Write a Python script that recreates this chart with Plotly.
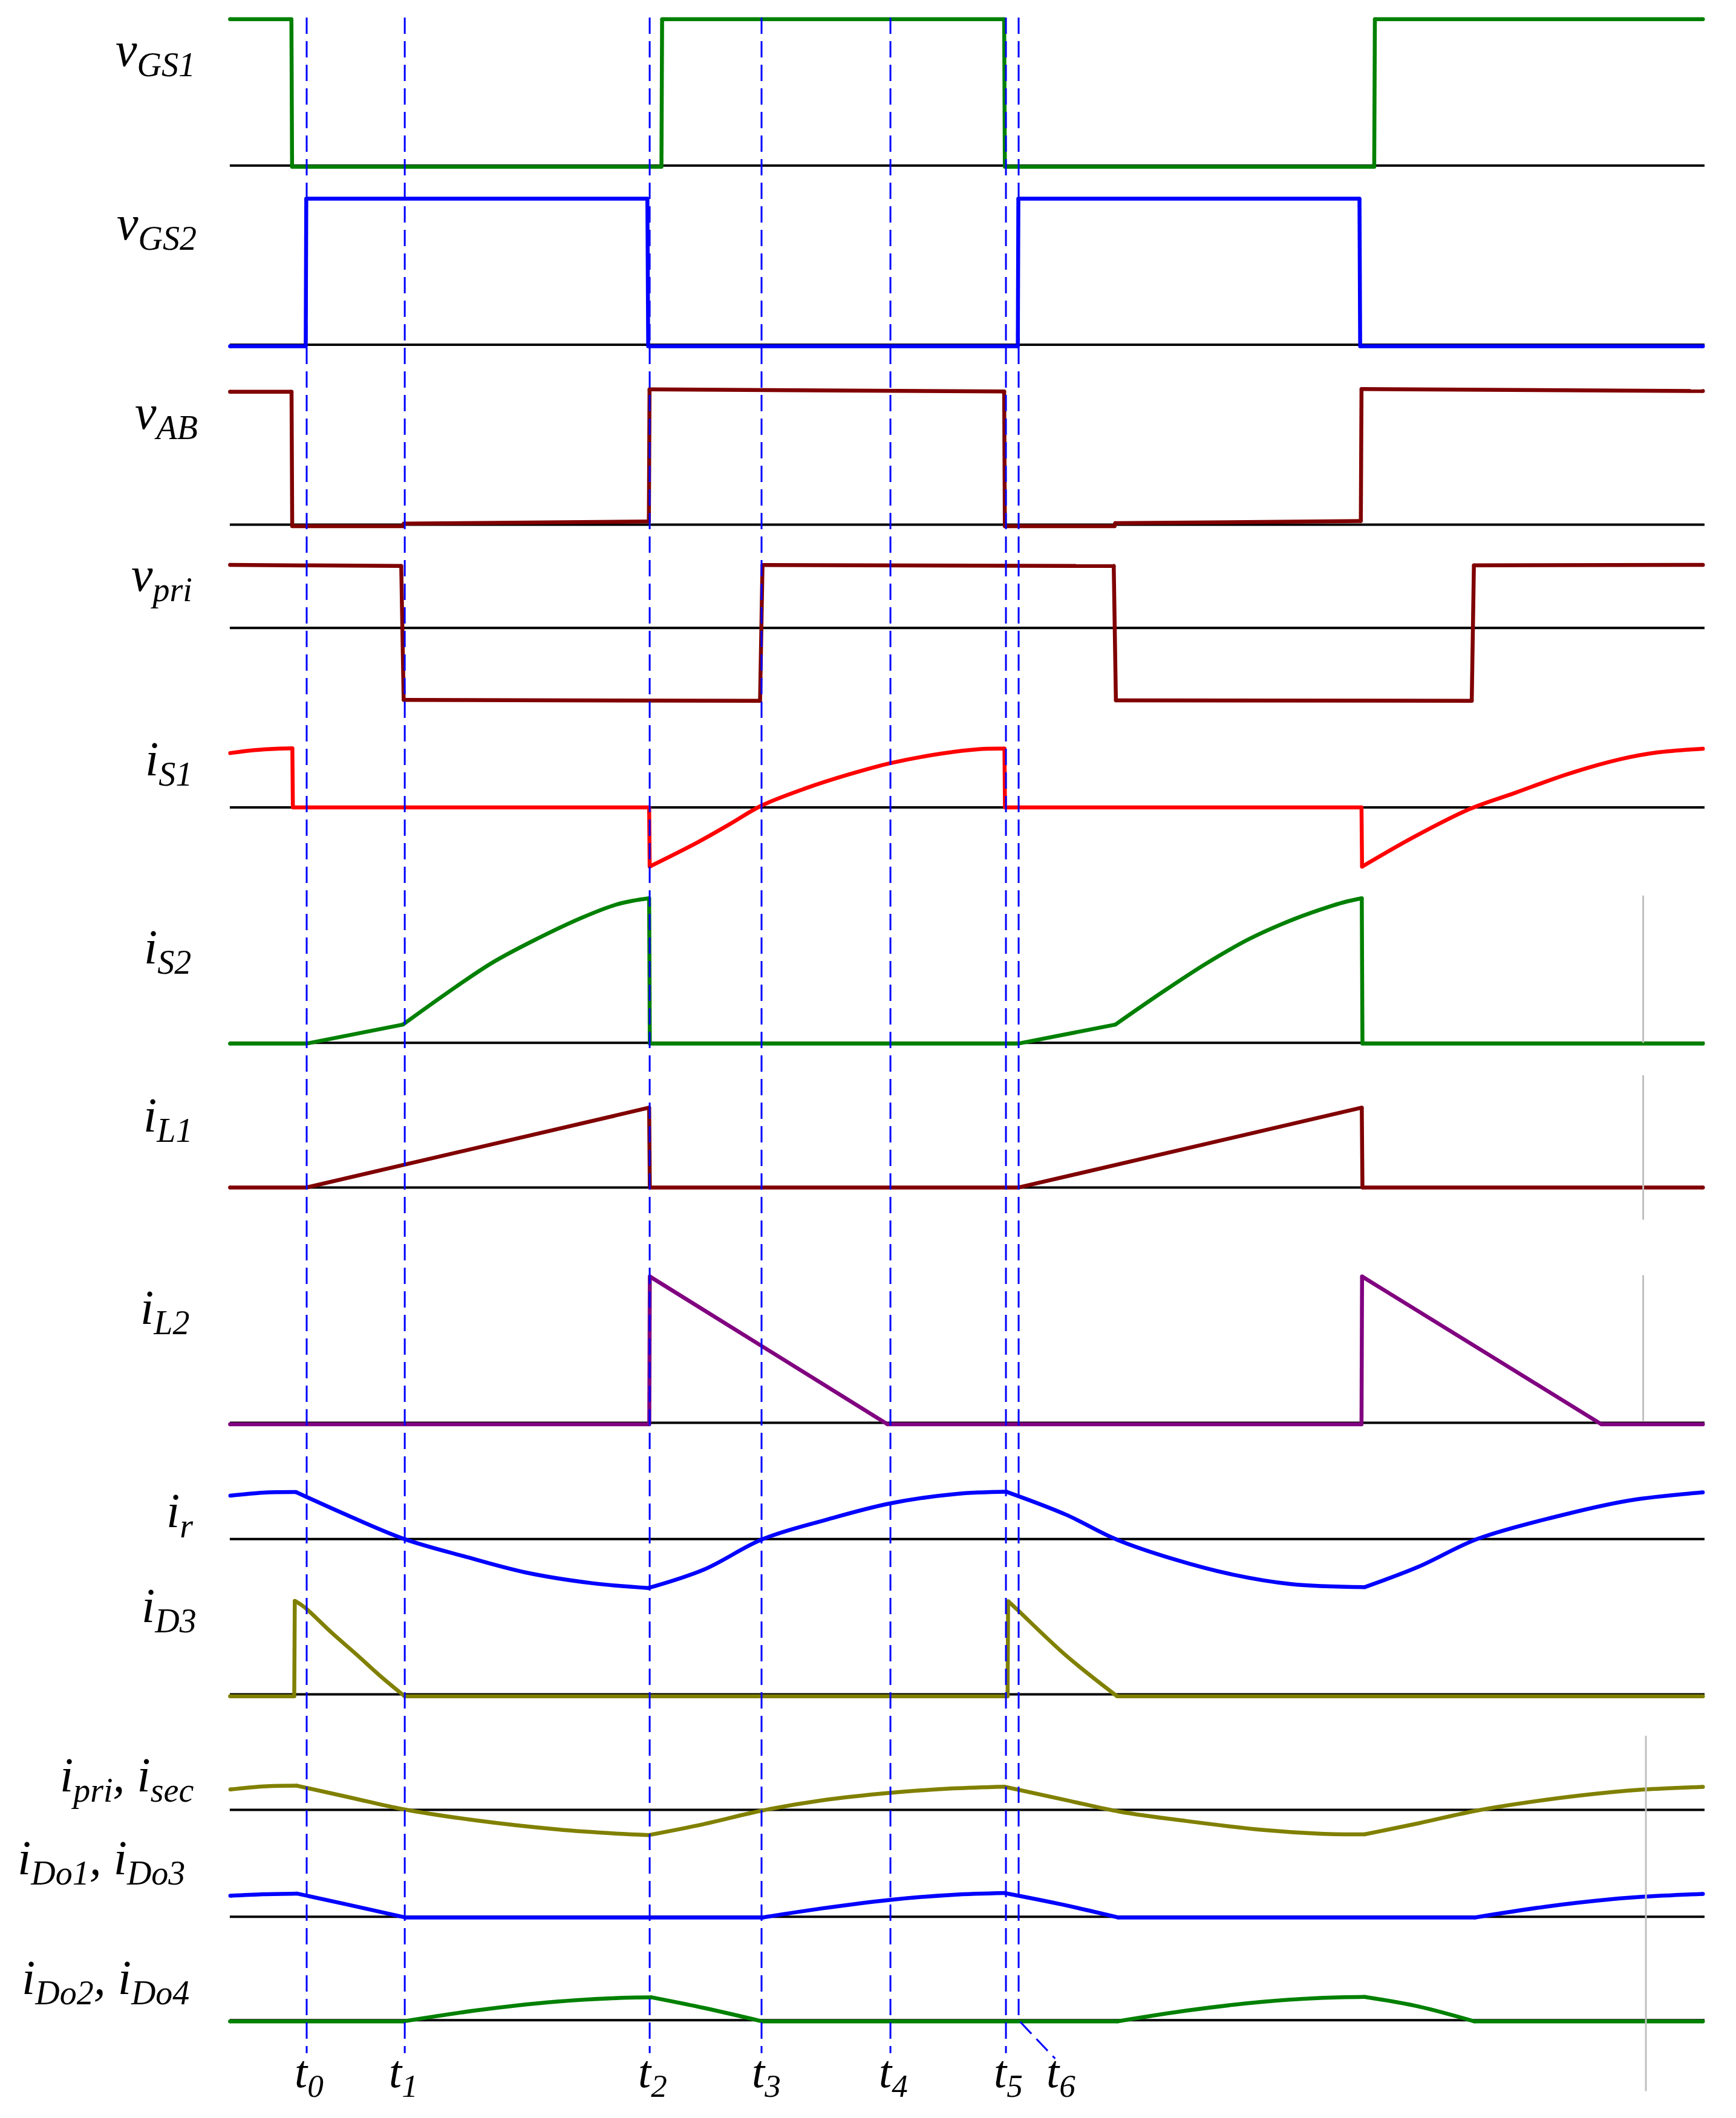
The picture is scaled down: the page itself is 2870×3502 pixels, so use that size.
import math
import plotly.graph_objects as go

# ------------------------------------------------------------------
# DATA  (time axis in reference units; each waveform normalised to its own peak)
# ------------------------------------------------------------------
t_marks = [227.0, 299.6, 480.9, 563.7, 659.1, 744.6, 754.0]
t_names = ["t<sub>0</sub>", "t<sub>1</sub>", "t<sub>2</sub>", "t<sub>3</sub>",
           "t<sub>4</sub>", "t<sub>5</sub>", "t<sub>6</sub>"]

vgs1_t = [170.3, 215.7, 216.2, 489.6, 490.1, 743.3, 743.8, 1017.2, 1017.7, 1260.5]
vgs1_v = [1.0, 1.0, -0.008, -0.008, 1.0, 1.0, -0.008, -0.008, 1.0, 1.0]

vgs2_t = [170.3, 226.3, 226.7, 479.2, 479.8, 753.4, 753.8, 1006.3, 1006.8, 1260.5]
vgs2_v = [-0.01, -0.01, 1.0, 1.0, -0.01, -0.01, 1.0, 1.0, -0.01, -0.01]

vab_t = [170.3, 215.8, 216.3, 298.4, 298.9, 480.3, 480.8, 743.3, 743.8, 825.0, 825.5,
         1007.3, 1007.8, 1260.5]
vab_v = [1.0, 1.0, -0.012, -0.011, 0.008, 0.024, 1.018, 1.002, -0.012, -0.011, 0.011,
         0.027, 1.020, 1.005]

vpri_t = [170.3, 297.0, 298.8, 562.6, 564.4, 824.4, 826.0, 1089.4, 1091.0, 1260.5]
vpri_v = [1.004, 0.987, -1.146, -1.159, 1.002, 0.987, -1.151, -1.159, 0.998, 1.004]

is1_t = [170.4, 188.6, 205.0, 216.4, 216.8, 480.5, 480.9, 516.5, 540.4, 563.7, 596.4,
         628.4, 659.0, 696.0, 724.5, 743.5, 743.9, 1007.8, 1008.2, 1047.0, 1088.0,
         1121.6, 1160.5, 1199.7, 1227.0, 1260.5]
is1_v = [0.920, 0.970, 0.993, 1.0, 0.0, 0.0, -1.002, -0.590, -0.281, 0.030, 0.323,
         0.558, 0.748, 0.908, 0.986, 0.995, 0.0, 0.0, -1.005, -0.497, -0.027,
         0.247, 0.565, 0.817, 0.931, 0.993]

is2_t = [170.3, 227.0, 298.2, 331.4, 364.5, 397.6, 430.8, 455.6, 468.0, 480.5, 481.0,
         754.0, 825.6, 860.0, 892.6, 925.0, 957.4, 986.0, 997.0, 1008.0, 1008.5, 1260.5]
is2_v = [-0.005, -0.005, 0.126, 0.348, 0.555, 0.720, 0.866, 0.955, 0.982, 1.0, -0.005,
         -0.005, 0.126, 0.348, 0.547, 0.720, 0.854, 0.948, 0.978, 1.0, -0.005, -0.005]

il1_t = [170.3, 227.0, 480.5, 481.0, 754.0, 1008.0, 1008.5, 1260.5]
il1_v = [0.0, 0.0, 1.0, 0.0, 0.0, 1.0, 0.0, 0.0]

il2_t = [170.3, 480.6, 481.0, 657.0, 1007.8, 1008.2, 1185.4, 1260.5]
il2_v = [-0.01, -0.01, 1.0, -0.01, -0.01, 1.0, -0.01, -0.01]

ir_t = [170.5, 195.0, 219.0, 260.0, 299.5, 343.0, 388.6, 438.0, 480.0, 521.0, 564.6,
        612.0, 659.0, 707.5, 745.0, 789.0, 827.0, 868.7, 912.2, 955.8, 1010.0, 1050.0,
        1093.6, 1151.6, 1206.0, 1260.4]
ir_v = [0.925, 0.989, 1.0, 0.471, 0.0, -0.362, -0.707, -0.937, -1.040, -0.649, 0.0,
        0.414, 0.759, 0.960, 1.006, 0.520, -0.014, -0.425, -0.753, -0.957, -1.023, -0.589,
        0.003, 0.477, 0.822, 0.994]

id3_t = [170.3, 217.8, 218.2, 225.0, 245.8, 264.4, 281.0, 299.6, 745.8, 746.2, 752.7,
         789.0, 827.0, 1260.5]
id3_v = [-0.022, -0.022, 1.0, 0.936, 0.655, 0.419, 0.202, -0.022, -0.022, 0.996, 0.910,
         0.416, -0.022, -0.022]

ipri_t = [170.5, 195.0, 219.8, 260.5, 298.5, 352.7, 412.4, 455.9, 480.3, 521.0, 564.4,
          607.8, 659.4, 705.5, 743.5, 789.0, 828.8, 879.6, 934.0, 977.5, 1010.0, 1050.0,
          1093.6, 1143.8, 1192.6, 1217.0, 1260.5]
ipri_v = [0.85, 0.978, 1.006, 0.5, 0.028, -0.438, -0.809, -0.983, -1.045, -0.590, -0.022,
          0.393, 0.713, 0.893, 0.966, 0.410, -0.073, -0.472, -0.826, -0.989, -1.017, -0.556,
          -0.022, 0.42, 0.74, 0.85, 0.96]

ido1_t = [170.5, 195.0, 219.8, 257.8, 300.0, 564.4, 607.8, 659.4, 705.5, 743.5, 787.0,
          827.6, 1091.7, 1143.8, 1192.6, 1217.0, 1260.5]
ido1_v = [0.90, 0.965, 0.994, 0.514, -0.03, -0.03, 0.353, 0.728, 0.942, 1.017, 0.514,
          -0.03, -0.03, 0.43, 0.75, 0.86, 0.98]

ido2_t = [170.3, 298.5, 352.7, 412.4, 461.3, 482.0, 521.0, 564.4, 827.0, 879.6, 934.0,
          977.5, 1010.0, 1050.0, 1091.5, 1260.5]
ido2_v = [-0.05, -0.05, 0.424, 0.802, 0.965, 0.988, 0.529, -0.05, -0.05, 0.424, 0.791,
          0.959, 1.006, 0.593, -0.05, -0.05]

labels = ["<i>v<sub>GS1</sub></i>", "<i>v<sub>GS2</sub></i>", "<i>v<sub>AB</sub></i>",
          "<i>v<sub>pri</sub></i>", "<i>i<sub>S1</sub></i>", "<i>i<sub>S2</sub></i>",
          "<i>i<sub>L1</sub></i>", "<i>i<sub>L2</sub></i>", "<i>i<sub>r</sub></i>",
          "<i>i<sub>D3</sub></i>", "<i>i<sub>pri</sub>, i<sub>sec</sub></i>",
          "<i>i<sub>Do1</sub>, i<sub>Do3</sub></i>", "<i>i<sub>Do2</sub>, i<sub>Do4</sub></i>"]

# ------------------------------------------------------------------
# LAYOUT / STYLE  (reference-pixel geometry, 1285 x 1568 units)
# ------------------------------------------------------------------
W, H = 2870, 3502
S = W / 1285.0
HS = H / S

GREEN, BLUE, MAROON, RED, PURPLE, OLIVE = "#008000", "#0000FF", "#800000", "#FF0000", "#800080", "#808000"

# (t, v, colour, zero level, pixels per unit, label right edge, label centre)
rows = [
    (vgs1_t, vgs1_v, GREEN, 122.6, 108.4, 145.6, 39.3),
    (vgs2_t, vgs2_v, BLUE, 255.2, 108.1, 146.6, 167.9),
    (vab_t, vab_v, MAROON, 388.4, 98.4, 147.3, 307.9),
    (vpri_t, vpri_v, MAROON, 464.9, 46.5, 143.3, 427.9),
    (is1_t, is1_v, RED, 597.7, 43.7, 143.3, 564.7),
    (is2_t, is2_v, GREEN, 772.0, 107.0, 142.5, 703.8),
    (il1_t, il1_v, MAROON, 879.1, 59.1, 143.3, 828.5),
    (il2_t, il2_v, PURPLE, 1053.3, 108.3, 141.0, 970.6),
    (ir_t, ir_v, BLUE, 1139.4, 34.8, 143.6, 1121.0),
    (id3_t, id3_v, OLIVE, 1254.3, 69.2, 146.3, 1191.5),
    (ipri_t, ipri_v, OLIVE, 1339.9, 17.8, 144.0, 1316.8),
    (ido1_t, ido1_v, BLUE, 1419.0, 17.3, 138.0, 1378.3),
    (ido2_t, ido2_v, GREEN, 1495.6, 17.2, 141.0, 1466.7),
]

BASE_X0, BASE_X1 = 170.1, 1261.7
DASH_TOP, DASH_BOT = 13.0, 1520.0
T6_END = (781.0, 1524.0)
TLAB_X = [229.0, 298.5, 483.0, 567.5, 661.5, 746.5, 785.5]
TLAB_Y = 1536.0
GRAY_MARKS = [(1216.3, 663.0, 772.0), (1216.3, 796.0, 903.0), (1216.3, 944.0, 1052.0),
              (1218.3, 1285.0, 1548.0)]
LINE_W = 6.5
CORNER_DEG = 11.0


def pf(y):  # reference pixel row -> paper fraction
    return 1.0 - y / HS


def corner_indices(t, v, unit):
    """Indices where the drawn waveform has a corner (so curves are smoothed only between them)."""
    pts = [(ti, -vi * unit) for ti, vi in zip(t, v)]
    idx = [0]
    for i in range(1, len(pts) - 1):
        a1 = math.degrees(math.atan2(pts[i][1] - pts[i - 1][1], pts[i][0] - pts[i - 1][0]))
        a2 = math.degrees(math.atan2(pts[i + 1][1] - pts[i][1], pts[i + 1][0] - pts[i][0]))
        flat_or_edge = min(abs(a1), abs(a2)) < 0.8 or max(abs(a1), abs(a2)) > 75
        if abs(a2 - a1) > CORNER_DEG or (flat_or_edge and abs(a2 - a1) > 3):
            idx.append(i)
    idx.append(len(pts) - 1)
    return idx


FONT = "Liberation Serif"
fig = go.Figure()
layout = dict(width=W, height=H, margin=dict(l=0, r=0, t=0, b=0),
              paper_bgcolor="white", plot_bgcolor="white", showlegend=False,
              xaxis=dict(range=[0, 1285], domain=[0, 1], visible=False, fixedrange=True))
shapes, annotations = [], []

for k, (t, v, col, zero, unit, lx, ly) in enumerate(rows):
    ax = "yaxis" if k == 0 else f"yaxis{k+1}"
    ref = "y" if k == 0 else f"y{k+1}"
    yd = dict(range=[(zero - HS) / unit, zero / unit], domain=[0, 1], visible=False,
              fixedrange=True)
    if k > 0:
        yd["overlaying"] = "y"
    layout[ax] = yd

    cidx = corner_indices(t, v, unit)
    for a, b in zip(cidx[:-1], cidx[1:]):
        fig.add_trace(go.Scatter(x=t[a:b + 1], y=v[a:b + 1], mode="lines", yaxis=ref,
                                 hoverinfo="skip",
                                 line=dict(color=col, width=LINE_W,
                                           shape="spline" if b - a >= 2 else "linear",
                                           smoothing=1.0)))
    fig.add_trace(go.Scatter(x=[t[i] for i in cidx], y=[v[i] for i in cidx], mode="markers",
                             yaxis=ref, hoverinfo="skip",
                             marker=dict(color=col, size=LINE_W, line=dict(width=0))))

    shapes.append(dict(type="line", xref="x", yref=ref, x0=BASE_X0, x1=BASE_X1, y0=0, y1=0,
                       line=dict(color="black", width=4), layer="below"))
    annotations.append(dict(text=labels[k], xref="x", yref="paper", x=lx, y=pf(ly),
                            xanchor="right", yanchor="middle", showarrow=False,
                            font=dict(family=FONT, size=80, color="black")))

DASH = "27px,12px"
for i, tm in enumerate(t_marks):
    if i == len(t_marks) - 1:
        zero_last = rows[-1][3]
        path = (f"M {tm},{pf(DASH_TOP)} L {tm},{pf(zero_last)} "
                f"L {T6_END[0]},{pf(T6_END[1])}")
        shapes.append(dict(type="path", xref="x", yref="paper", path=path,
                           line=dict(color=BLUE, width=3, dash=DASH), layer="above"))
    else:
        shapes.append(dict(type="line", xref="x", yref="paper", x0=tm, x1=tm,
                           y0=pf(DASH_TOP), y1=pf(DASH_BOT),
                           line=dict(color=BLUE, width=3, dash=DASH), layer="above"))
    annotations.append(dict(text=f"<i>{t_names[i]}</i>", xref="x", yref="paper",
                            x=TLAB_X[i], y=pf(TLAB_Y), xanchor="center", yanchor="middle",
                            showarrow=False, font=dict(family=FONT, size=76, color="black")))

for gx, gy0, gy1 in GRAY_MARKS:
    shapes.append(dict(type="line", xref="x", yref="paper", x0=gx, x1=gx,
                       y0=pf(gy0), y1=pf(gy1), line=dict(color="#C0C0C0", width=3),
                       layer="above"))

layout["shapes"] = shapes
layout["annotations"] = annotations
fig.update_layout(**layout)

fig.write_html("out.html", config={"displayModeBar": False, "staticPlot": True},
               post_script="document.body.style.margin='0';document.body.style.overflow='hidden';")
